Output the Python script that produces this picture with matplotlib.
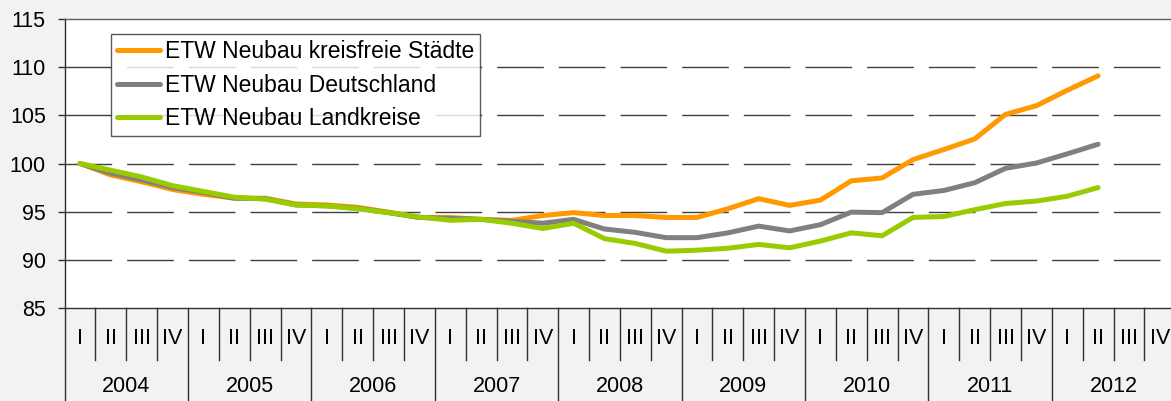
import numpy as np
import matplotlib
matplotlib.use("Agg")
import matplotlib.pyplot as plt

plt.rcParams['font.family'] = ['Liberation Sans', 'DejaVu Sans']
plt.rcParams['lines.scale_dashes'] = False

# Data: quarterly index, 2004 Q1 = 100
years = ['2004', '2005', '2006', '2007', '2008', '2009', '2010', '2011', '2012']
quarters = ['I', 'II', 'III', 'IV']

kreisfrei = [100.0, 98.8, 98.1, 97.3, 96.8, 96.4, 96.4, 95.8, 95.7, 95.45, 94.95, 94.4,
             94.4, 94.2, 94.1, 94.6, 94.9, 94.6, 94.6, 94.4, 94.4, 95.3, 96.35, 95.65,
             96.2, 98.2, 98.5, 100.4, 101.45, 102.55, 105.1, 106.0, 107.6, 109.1]
deutschland = [100.0, 99.0, 98.3, 97.5, 97.0, 96.4, 96.35, 95.7, 95.6, 95.35, 94.9, 94.4,
               94.3, 94.2, 94.0, 93.8, 94.2, 93.2, 92.85, 92.3, 92.3, 92.8, 93.5, 93.0,
               93.65, 94.95, 94.9, 96.8, 97.2, 98.0, 99.5, 100.05, 101.0, 102.0]
landkreise = [100.0, 99.3, 98.6, 97.7, 97.1, 96.5, 96.3, 95.7, 95.6, 95.3, 94.9, 94.45,
              94.1, 94.2, 93.8, 93.25, 93.8, 92.2, 91.7, 90.9, 91.0, 91.2, 91.6, 91.25,
              91.95, 92.8, 92.5, 94.4, 94.5, 95.2, 95.85, 96.1, 96.6, 97.5]

labels = ['ETW Neubau kreisfreie Städte', 'ETW Neubau Deutschland', 'ETW Neubau Landkreise']
colors = ['#FF9900', '#808080', '#99CC00']

W, H = 1171, 401
n_cat = len(years) * len(quarters)
left, right, top, bottom = 64.6, 64.6 + 36 * 30.85, 19, 308

fig = plt.figure(figsize=(W / 100, H / 100), dpi=100, facecolor='#f2f2f2')
ax = fig.add_axes([left / W, 1 - bottom / H, (right - left) / W, (bottom - top) / H])
ax.set_facecolor('white')

x = np.arange(len(kreisfrei))
for series, col, lab in zip([kreisfrei, deutschland, landkreise], colors, labels):
    ax.plot(x, series, color=col, lw=3.6, label=lab, solid_capstyle='round', zorder=3)

ax.set_xlim(-0.5, n_cat - 0.5)
ax.set_ylim(85, 115)
ax.set_yticks(np.arange(85, 116, 5))
ax.set_xticks([])
for yv in [90, 95, 100, 105, 110]:
    ax.axhline(yv, color='#404040', lw=1.0, dashes=(33.6, 10.8), zorder=1)

for s in ['left', 'bottom', 'top']:
    ax.spines[s].set_color('#303030')
    ax.spines[s].set_linewidth(1.0)
ax.spines['top'].set_color('#606060')
ax.spines['right'].set_visible(False)
ax.tick_params(axis='y', length=5, width=1, color='#303030', pad=8.5, labelsize=15.5)

leg = ax.legend(loc='upper left', bbox_to_anchor=(110.7 / W, 1 - 34 / H),
                bbox_transform=fig.transFigure, borderaxespad=0, fontsize=16.5,
                frameon=True, fancybox=False, handlelength=1.86, handletextpad=0.22,
                labelspacing=0.45, borderpad=0.28)
leg.get_frame().set_edgecolor('#303030')
leg.get_frame().set_linewidth(1.0)

# category axis below the plot (two levels)
cat = fig.add_axes([left / W, 0, (right - left) / W, (H - bottom) / H])
cat.set_xlim(-0.5, n_cat - 0.5)
cat.set_ylim(H - bottom, 0)
cat.axis('off')
for k in range(n_cat + 1):
    depth = H - bottom if k % 4 == 0 else 52
    cat.plot([k - 0.5, k - 0.5], [0, depth], color='#303030', lw=1.0, clip_on=False)
for i in range(n_cat):
    cat.text(i, 31, quarters[i % 4], ha='center', va='center', fontsize=15.5)
for j, yr in enumerate(years):
    cat.text(j * 4 + 1.5, 78, yr, ha='center', va='center', fontsize=15.5)

fig.savefig('out.png', dpi=100, facecolor=fig.get_facecolor())
